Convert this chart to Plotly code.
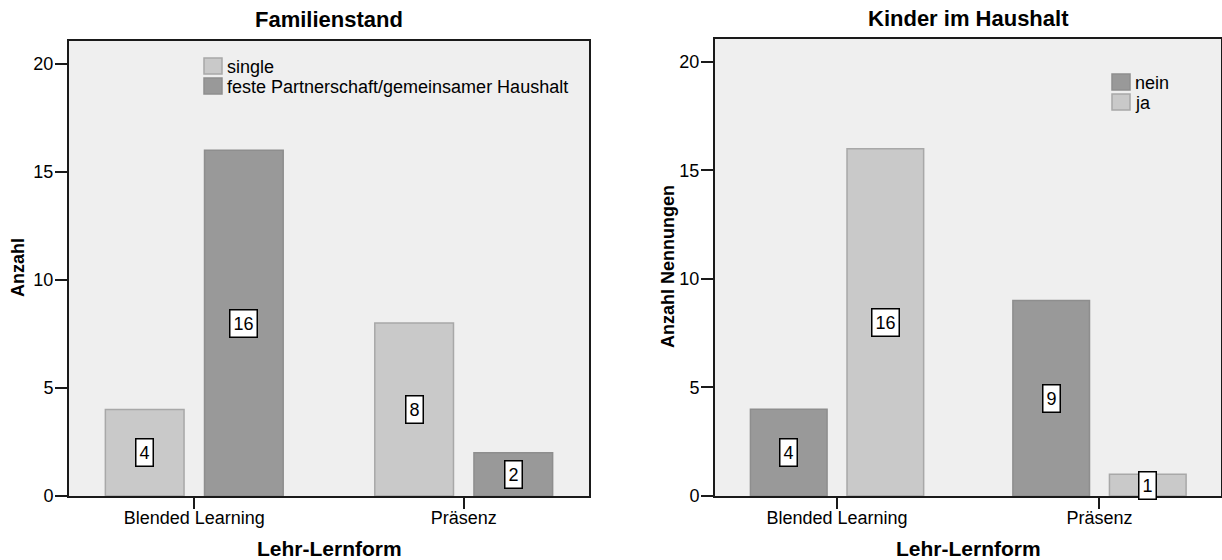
import plotly.graph_objects as go

# Data
categories = ["Blended Learning", "Präsenz"]

fam_names = ["single", "feste Partnerschaft/gemeinsamer Haushalt"]
fam_single = [4, 8]
fam_partner = [16, 2]

kid_names = ["nein", "ja"]
kid_nein = [4, 9]
kid_ja = [16, 1]

y_ticks = [0, 5, 10, 15, 20]

# Styling
W, H = 1222, 560
FONT = "Liberation Sans, Arial, sans-serif"
LIGHT, LIGHT_LINE = "#c9c9c9", "#a8a8a8"
DARK, DARK_LINE = "#999999", "#8e8e8e"
BAR_W = 0.292
OFFSETS = [-0.33, 0.038]

xpos = list(range(len(categories)))


def px_x(p):
    return p / W


def px_y(p):
    return (H - p) / H


fig = go.Figure()


def add_bars(values, name, fill, line, offset, xa, ya):
    fig.add_trace(go.Bar(
        x=xpos, y=values, name=name, width=BAR_W, offset=offset,
        marker=dict(color=fill, line=dict(color=line, width=1.5)),
        xaxis=xa, yaxis=ya, showlegend=False, hoverinfo="x+y+name",
    ))
    for xi, v in zip(xpos, values):
        fig.add_annotation(
            x=xi + offset + BAR_W / 2, y=v / 2, xref=xa, yref=ya,
            text=str(v), showarrow=False,
            font=dict(family=FONT, size=18, color="black"),
            bgcolor="white", bordercolor="black", borderwidth=1.5, borderpad=3,
        )


# Left panel: Familienstand
add_bars(fam_single, fam_names[0], LIGHT, LIGHT_LINE, OFFSETS[0], "x", "y")
add_bars(fam_partner, fam_names[1], DARK, DARK_LINE, OFFSETS[1], "x", "y")
# Right panel: Kinder im Haushalt
add_bars(kid_nein, kid_names[0], DARK, DARK_LINE, OFFSETS[0], "x2", "y2")
add_bars(kid_ja, kid_names[1], LIGHT, LIGHT_LINE, OFFSETS[1], "x2", "y2")

axis_common = dict(
    showline=True, linecolor="#1a1a1a", linewidth=2, mirror=True,
    ticks="outside", tickcolor="#1a1a1a", tickwidth=2,
    showgrid=False, zeroline=False, automargin=False,
    tickfont=dict(family=FONT, size=18, color="black"),
)

left_dom = [px_x(69), px_x(589)]
right_dom = [px_x(715), px_x(1221)]

fig.update_layout(
    width=W, height=H,
    margin=dict(l=0, r=0, t=0, b=0),
    paper_bgcolor="white",
    plot_bgcolor="#efefef",
    barmode="overlay",
    showlegend=False,
    xaxis=dict(axis_common, domain=left_dom, range=[-0.465, 1.465],
               tickvals=xpos, ticktext=categories, ticklen=11,
               ticklabelstandoff=-7, anchor="y"),
    yaxis=dict(axis_common, domain=[px_y(496), px_y(41)], range=[0, 21.05],
               tickvals=y_ticks, ticklen=12, ticklabelstandoff=-2, anchor="x"),
    xaxis2=dict(axis_common, domain=right_dom, range=[-0.465, 1.463],
                tickvals=xpos, ticktext=categories, ticklen=11,
                ticklabelstandoff=-7, anchor="y2"),
    yaxis2=dict(axis_common, domain=[px_y(496), px_y(39)], range=[0, 21.05],
                tickvals=y_ticks, ticklen=12, ticklabelstandoff=-2, anchor="x2"),
)

# Legend key boxes and labels (one block per panel)
legend_font = dict(family=FONT, size=18, color="black")
legend_items = [
    # (label, fill, outline, box-left px, box-top px)
    (fam_names[0], LIGHT, LIGHT_LINE, 204, 58),
    (fam_names[1], DARK, DARK_LINE, 204, 78),
    (kid_names[0], DARK, DARK_LINE, 1112, 74),
    (kid_names[1], LIGHT, LIGHT_LINE, 1112, 94),
]
for label, fill, outline, bx, by in legend_items:
    fig.add_shape(
        type="rect", xref="paper", yref="paper",
        x0=px_x(bx), x1=px_x(bx + 18), y0=px_y(by + 16), y1=px_y(by),
        fillcolor=fill, line=dict(color=outline, width=1.5),
    )
    fig.add_annotation(
        x=px_x(bx + 21), y=px_y(by + 9), xref="paper", yref="paper",
        text=label, showarrow=False, font=legend_font,
        xanchor="left", yanchor="middle",
    )

title_font = dict(family=FONT, size=22, color="black")
xtitle_font = dict(family=FONT, size=21, color="black")
axis_title_font = dict(family=FONT, size=18, color="black")

texts = [
    ("<b>Familienstand</b>", (69 + 589) / 2, 20, 0, title_font),
    ("<b>Kinder im Haushalt</b>", (715 + 1221) / 2, 18, 0, title_font),
    ("<b>Lehr-Lernform</b>", (69 + 589) / 2, 548, 0, xtitle_font),
    ("<b>Lehr-Lernform</b>", (715 + 1221) / 2, 548, 0, xtitle_font),
    ("<b>Anzahl</b>", 18, 268, -90, axis_title_font),
    ("<b>Anzahl Nennungen</b>", 668, 267, -90, axis_title_font),
]
for txt, x, y, ang, f in texts:
    fig.add_annotation(
        x=px_x(x), y=px_y(y), xref="paper", yref="paper",
        text=txt, showarrow=False, textangle=ang, font=f,
        xanchor="center", yanchor="middle",
    )

fig.write_html("out.html")
